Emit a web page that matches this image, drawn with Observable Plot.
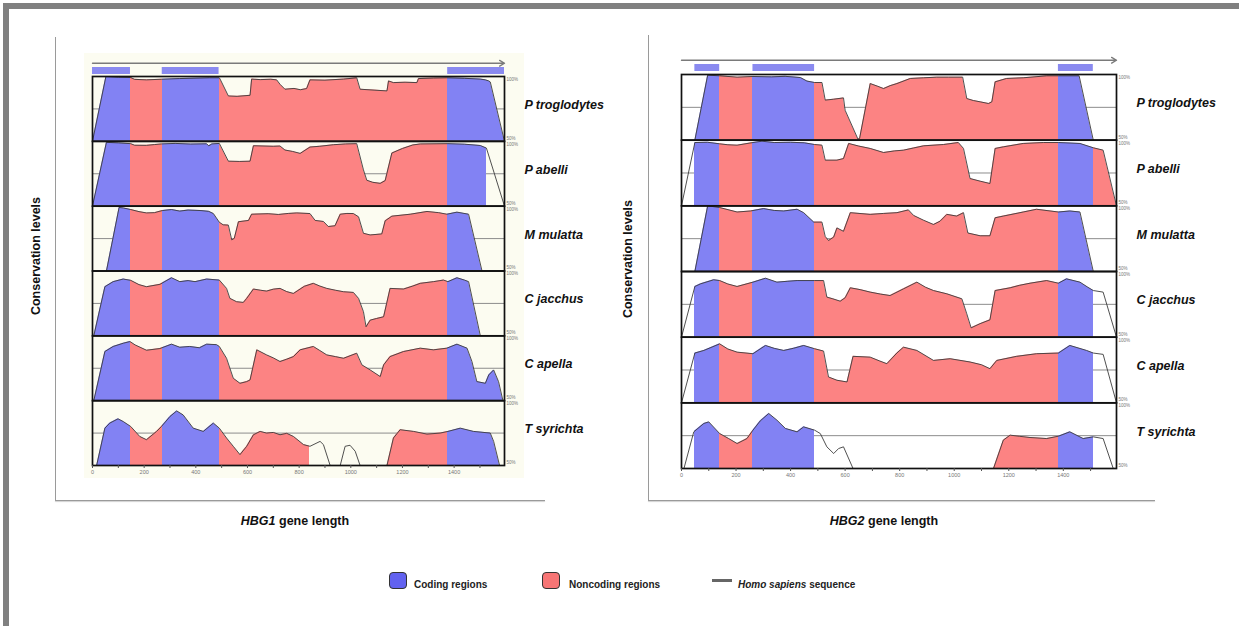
<!DOCTYPE html>
<html><head><meta charset="utf-8">
<script src="https://cdn.jsdelivr.net/npm/d3@7"></script>
<script src="https://cdn.jsdelivr.net/npm/@observablehq/plot@0.6"></script>
<style>
body{margin:0;background:#fff;font-family:"Liberation Sans",Arial,sans-serif;}
#root{position:relative;width:1239px;height:626px;overflow:hidden;background:#fff;}
.abs{position:absolute;}
.lbl{font-weight:bold;font-size:12.5px;color:#111;white-space:nowrap;}
.leg{font-weight:bold;font-size:10px;color:#222;white-space:nowrap;}
</style></head><body><div id="root"></div>
<script>
// ---------------- data ----------------
const species = ["P troglodytes","P abelli","M mulatta","C jacchus","C apella","T syrichta"];
const xTicks = [0,100,200,300,400,500,600,700,800,900,1000,1100,1200,1300,1400,1500];
const geneLength = [1595, 1595];

const hbg1Coding = [[0,147],[270,490],[1375,1595]];
const hbg2Coding = [[49,140],[262,488],[1382,1510]];

// HBG1 conservation profiles [position bp, % identity]
const h1_ptro = [[0,50],[52,100],[100,99.4],[148,99.2],[163,97.8],[209,97.4],[267,97.9],[336,98.4],[452,99],[491,99],[494,98],[526,85],[560,84.7],[610,85.5],[616,98],[650,97.6],[690,97.9],[713,97.4],[726,94],[745,90.2],[780,90.8],[805,89.8],[829,90.7],[842,97.4],[900,97.2],[972,98],[1023,99],[1036,90.2],[1090,89.5],[1140,88.9],[1146,96.6],[1165,95.3],[1210,95.6],[1256,95.3],[1262,98.4],[1320,98.8],[1372,99],[1440,98.6],[1501,98],[1521,97.4],[1534,96.6],[1540,95.8],[1595,50]];
const h1_pabe = [[0,50],[54,99.2],[100,98.8],[148,98.2],[163,97],[209,96.9],[240,97.5],[267,98],[320,98.4],[380,97.9],[442,98.1],[450,96.5],[462,98],[491,98.4],[526,84.7],[570,84.5],[610,84.7],[623,96.6],[700,96.2],[726,96.4],[745,93.3],[775,92.2],[804,90.7],[842,95.6],[880,96.2],[933,97.4],[980,98],[1023,98.2],[1049,78],[1062,70],[1085,68.4],[1114,67.6],[1133,69.7],[1159,91],[1200,94.5],[1240,97.2],[1269,98],[1376,98.2],[1440,97.8],[1501,96.8],[1525,94.8],[1595,50]];
const h1_mmul = [[54,50],[103,99],[120,98.6],[148,97.4],[180,95.8],[209,94.8],[240,95],[270,96.6],[306,97.4],[338,96.2],[370,97],[420,96.6],[450,96],[468,94.3],[491,87.6],[506,85.6],[526,85.4],[539,74],[549,75.2],[565,88],[604,89],[616,93.8],[680,94.2],[720,93.6],[758,94.4],[791,94.8],[842,94.3],[862,89],[894,88.2],[913,84.3],[939,84.9],[959,93.8],[985,94.4],[1010,94.3],[1030,91.8],[1049,79.1],[1075,77.8],[1120,78.6],[1133,88.7],[1159,92.3],[1230,93.8],[1295,95.9],[1340,95],[1372,93.8],[1411,95.4],[1456,93.8],[1508,50]];
const h1_cjac = [[5,50],[48,87.9],[80,91.8],[119,93.8],[148,92.8],[180,89.5],[209,87.9],[261,89.7],[306,94.8],[338,91.8],[370,92.6],[397,91.8],[442,93.8],[491,93],[519,86.6],[532,78.9],[558,76.3],[584,75.8],[597,78.9],[623,86.1],[650,85.2],[674,84.5],[700,86],[726,86.6],[752,84.1],[778,82.7],[820,88.2],[855,90.5],[880,88.4],[907,86.6],[940,85.2],[972,84],[1010,83.5],[1030,78.9],[1049,68.6],[1059,57],[1075,62.1],[1100,63.4],[1127,64.7],[1152,86.6],[1204,86.1],[1240,88.4],[1269,90.5],[1320,91.8],[1359,93],[1376,91.8],[1411,94.8],[1440,93],[1456,91.8],[1501,50.5]];
const h1_cape = [[5,50],[48,87.9],[80,91.8],[119,94.3],[145,95.6],[165,93],[209,88.9],[261,90.2],[306,93.6],[338,91.2],[376,91.8],[414,90.8],[442,93.6],[480,93.2],[491,91.8],[519,82.7],[545,67.3],[571,63.4],[597,64.7],[610,66],[636,89.2],[674,85.3],[700,83],[726,80.2],[752,82],[778,84],[804,89.2],[855,91.8],[880,88.7],[907,85.3],[940,84],[972,82.7],[1023,86.6],[1043,77.6],[1075,73.7],[1114,68.6],[1127,77.6],[1152,84],[1204,87.9],[1269,90.5],[1320,89.2],[1372,90.5],[1411,93.6],[1450,90.5],[1469,80.2],[1488,64.7],[1521,63.4],[1534,69.8],[1553,73.7],[1572,64.7],[1589,50]];
const h1_tsyr = [[16,50],[48,78.8],[67,82.7],[99,86],[119,83.9],[148,80.1],[183,72.4],[209,69.9],[248,76.3],[267,80.1],[300,87.8],[326,92.1],[351,89],[390,78.8],[429,76.3],[468,82.7],[491,78.8],[519,71.2],[545,64.8],[571,58.4],[597,64.8],[623,73.7],[649,76.3],[674,75],[700,75.5],[726,73.7],[752,74.8],[778,72.4],[817,66.1],[842,64.8],[881,68.6],[894,66.1],[920,50],[959,50],[978,64.8],[997,65.6],[1017,61],[1036,50],[1140,50],[1165,71.2],[1191,77.6],[1243,76.3],[1295,74.2],[1346,75],[1376,76.3],[1424,78.8],[1475,76.3],[1540,75],[1553,68.6],[1576,50]];

// HBG2 conservation profiles
const h2_ptro = [[49,50],[96,99.5],[140,99],[204,98],[262,98.5],[330,98.2],[380,98.6],[436,97.7],[460,95],[488,93.9],[515,93.9],[527,80.5],[558,81.2],[594,82.2],[600,72.8],[647,50.8],[653,51.3],[692,93.1],[720,91],[741,89.3],[765,91.5],[790,93.1],[839,97],[888,97.5],[936,98],[979,98],[1031,98],[1046,81.7],[1070,80.2],[1095,79.2],[1126,77.9],[1138,79.2],[1150,94.4],[1192,97],[1253,97.5],[1300,98.3],[1339,99],[1382,99],[1458,99],[1510,50]];
const h2_pabe = [[0,50],[49,98.2],[96,98.4],[140,97.2],[170,96.5],[204,96.2],[262,98.2],[295,99.2],[340,98.2],[400,98.4],[450,98],[488,96.7],[515,96.2],[527,84.8],[570,84.8],[594,86],[613,97.5],[650,95.5],[692,93.7],[741,90.6],[780,91.8],[814,92.4],[850,94],[888,95.7],[961,96.7],[1015,98.2],[1034,93.7],[1058,70.8],[1095,68.8],[1131,67],[1150,93.7],[1180,94.9],[1253,97.5],[1327,98.2],[1382,98.2],[1461,97.5],[1510,94.2],[1546,92.4],[1595,50]];
const h2_mmul = [[49,50],[96,100],[140,98.7],[204,95.3],[253,96.1],[301,97.9],[340,96.5],[375,96.1],[424,97.4],[448,94.8],[485,87.6],[515,87.6],[527,76.7],[539,73.6],[558,76.2],[570,83.2],[594,80.6],[619,94.8],[692,93.5],[740,94.2],[790,94.8],[832,96.9],[851,92.7],[887,89.1],[924,85.8],[948,88.3],[973,93.5],[1009,92.2],[1034,94.8],[1050,79.3],[1095,77.2],[1131,77.2],[1150,90.9],[1180,92.2],[1253,95.3],[1302,97.4],[1382,95.3],[1424,96.1],[1461,95.3],[1510,50]];
const h2_cjac = [[0,50],[49,88.6],[70,90.6],[118,93.7],[140,93.1],[170,90.5],[204,88.6],[262,91.9],[308,94.9],[350,91.9],[390,92.6],[424,93.1],[488,93.1],[521,93.1],[533,80.5],[555,79.2],[582,77.4],[600,80],[619,87.6],[655,86.2],[692,84.3],[730,82.8],[765,81.7],[814,86.8],[863,91.9],[895,88],[924,85.5],[973,83],[1028,79.2],[1046,67.8],[1062,57.1],[1095,60.3],[1131,63.2],[1150,85.5],[1205,87.6],[1240,89.5],[1278,91.1],[1339,93.1],[1382,91.1],[1412,94.4],[1461,91.9],[1490,88],[1510,85.5],[1546,84.3],[1595,50]];
const h2_cape = [[0,50],[49,87.9],[82,89.9],[140,94.9],[170,91],[204,88.6],[262,87.4],[308,93.7],[340,91.5],[375,89.9],[410,91.5],[448,93.7],[488,91.2],[521,89.4],[539,69.7],[570,67.2],[607,65.9],[629,85.4],[692,84.8],[725,82],[753,79.8],[790,88],[814,92.4],[863,89.9],[924,82.3],[985,83.6],[1058,81.1],[1100,79],[1131,76],[1156,82.3],[1229,85.4],[1302,87.4],[1382,87.9],[1424,93.7],[1485,89.9],[1510,87.9],[1546,86.9],[1595,50]];
const h2_tsyr = [[9,50],[45,77.9],[82,84.3],[100,85.5],[140,76.6],[173,72.8],[204,69],[240,72.8],[262,79.2],[289,86.3],[320,91.9],[350,86.8],[381,80.5],[424,77.9],[448,81.7],[488,79.2],[509,76.6],[533,66.5],[558,61.4],[576,65.2],[594,66.5],[629,50],[1144,50],[1180,71.6],[1205,75.4],[1240,74.5],[1278,73.6],[1339,72.8],[1382,74.6],[1424,77.9],[1473,72.8],[1510,74.1],[1546,72.8],[1583,50]];

// shaded (conserved) stretches per profile
const h1_fills = [[[0,1595]],[[0,1525]],[[54,1508]],[[5,1501]],[[5,1589]],[[16,842],[1140,1576]]];
const h2_fills = [[[49,1510]],[[49,1595]],[[49,1510]],[[49,1510]],[[49,1510]],[[49,488],[1144,1510]]];

// ---------------- style ----------------
const BLUE = "#8282f3", RED = "#fc8383", BAR = "#8a8af0";
const FONT = "'Liberation Sans', Arial, sans-serif";
const root = document.getElementById("root");

function div(css, html) {
  const d = document.createElement("div");
  d.className = "abs";
  d.style.cssText = css;
  if (html) d.innerHTML = html;
  root.appendChild(d);
  return d;
}

// outer frame & panel frames
div("left:3px;top:3px;width:1236px;height:6px;background:#808080;");
div("left:3px;top:3px;width:6px;height:623px;background:#808080;");
div("left:84px;top:53px;width:440px;height:425px;background:#fcfcf1;");
div("left:55px;top:37px;width:1px;height:463px;background:#9a9a9a;");
div("left:55px;top:500px;width:490px;height:1px;background:#9a9a9a;box-shadow:0 1px 1px #ccc;");
div("left:648px;top:35px;width:1px;height:465px;background:#9a9a9a;");
div("left:648px;top:500px;width:507px;height:1px;background:#9a9a9a;box-shadow:0 1px 1px #ccc;");

function gradients(svg, prefix, fills, coding, len) {
  const ns = "http://www.w3.org/2000/svg";
  const x = svg.scale("x");
  const x0 = x.apply(0), x1 = x.apply(len);
  const defs = document.createElementNS(ns, "defs");
  fills.forEach((fr, i) => {
    const g = document.createElementNS(ns, "linearGradient");
    g.setAttribute("id", `${prefix}-${i}`);
    g.setAttribute("gradientUnits", "userSpaceOnUse");
    g.setAttribute("x1", x0); g.setAttribute("x2", x1);
    g.setAttribute("y1", 0); g.setAttribute("y2", 0);
    const edges = [...new Set([0, len, ...fr.flat(), ...coding.flat()])]
      .filter(v => v >= 0 && v <= len).sort((a, b) => a - b);
    for (let k = 0; k < edges.length - 1; k++) {
      const a = edges[k], b = edges[k + 1], m = (a + b) / 2;
      const on = fr.some(([s, e]) => m >= s && m <= e);
      const cod = coding.some(([s, e]) => m >= s && m <= e);
      for (const v of [a, b]) {
        const st = document.createElementNS(ns, "stop");
        st.setAttribute("offset", (x.apply(v) - x0) / (x1 - x0));
        st.setAttribute("stop-color", cod ? BLUE : RED);
        st.setAttribute("stop-opacity", on ? 1 : 0);
        g.appendChild(st);
      }
    }
    defs.appendChild(g);
  });
  svg.insertBefore(defs, svg.firstChild);
}

function panel(o) {
  const rows = species.flatMap((sp, i) => o.profiles[i].map(([x, v]) => ({sp, x, v})));
  const plot = Plot.plot({
    width: o.width, height: o.height,
    marginLeft: o.ml, marginRight: o.width - o.pr, marginTop: 5, marginBottom: 16,
    style: {background: "transparent", fontFamily: FONT, overflow: "visible"},
    x: {domain: [0, o.len]},
    y: {domain: [50, 100]},
    fy: {domain: species, padding: 0, round: false, axis: null},
    marks: [
      Plot.frame({fill: o.bg, stroke: null}),
      Plot.ruleY([75], {stroke: "#8c8c8c", strokeWidth: 1}),
      ...species.map((sp, i) => Plot.areaY(rows.filter(d => d.sp === sp), {
        x: "x", y1: () => 50, y2: "v", fy: "sp", fill: `url(#${o.id}-${i})`
      })),
      Plot.lineY(rows, {x: "x", y: "v", fy: "sp", z: "sp", stroke: "#3c3c3c", strokeWidth: 0.9}),
      Plot.frame({stroke: "#111", strokeWidth: 1.7}),
      Plot.axisY({anchor: "right", ticks: [100], tickSize: 0, tickPadding: 2, label: null,
        tickFormat: d => d + "%", fontSize: 4.5, fill: "#777", dy: 3}),
      Plot.axisY({anchor: "right", ticks: [50], tickSize: 0, tickPadding: 2, label: null,
        tickFormat: d => d + "%", fontSize: 4.5, fill: "#777", dy: -3}),
      Plot.axisX({ticks: xTicks.filter(t => t < o.len), tickSize: 3, tickPadding: 2, label: null,
        tickFormat: d => d % 200 === 0 ? String(d) : "", fontSize: 5.5, fill: "#777", stroke: "#555"}),
      Plot.text(species, {fy: d => d, text: d => d, frameAnchor: "right", dx: 20, dy: -4, textAnchor: "start",
        fontWeight: "bold", fontStyle: "italic", fontSize: 12.5, fill: "#111"})
    ]
  });
  gradients(plot, o.id, o.fills, o.coding, o.len);
  plot.style.position = "absolute";
  plot.style.left = o.left + "px";
  plot.style.top = o.top + "px";
  root.appendChild(plot);

  const track = Plot.plot({
    width: o.width, height: 17,
    marginLeft: o.ml, marginRight: o.width - o.pr, marginTop: 0, marginBottom: 0,
    style: {background: "transparent", overflow: "visible"},
    x: {domain: [0, o.len], axis: null},
    y: {domain: [0, 1], axis: null},
    marks: [
      Plot.rect(o.coding, {x1: d => d[0], x2: d => d[1], y1: () => 0.06, y2: () => 0.47, fill: BAR}),
      Plot.arrow([[0, o.len]], {x1: d => d[0], x2: d => d[1], y1: () => 0.72, y2: () => 0.72,
        stroke: "#7a7a7a", strokeWidth: 1.4, headLength: 6})
    ]
  });
  track.style.position = "absolute";
  track.style.left = o.left + "px";
  track.style.top = o.trackTop + "px";
  root.appendChild(track);
}

panel({id: "g1", left: 0, top: 71, trackTop: 58, width: 640, height: 410, ml: 92, pr: 504,
  len: geneLength[0], coding: hbg1Coding, fills: h1_fills, bg: "#fcfcf1",
  profiles: [h1_ptro, h1_pabe, h1_mmul, h1_cjac, h1_cape, h1_tsyr]});
panel({id: "g2", left: 560, top: 69, trackTop: 55, width: 679, height: 415, ml: 121, pr: 556,
  len: geneLength[1], coding: hbg2Coding, fills: h2_fills, bg: "#ffffff",
  profiles: [h2_ptro, h2_pabe, h2_mmul, h2_cjac, h2_cape, h2_tsyr]});

// axis titles
div("left:-65px;top:247px;width:200px;text-align:center;transform:rotate(-90deg);", "<span class='lbl'>Conservation levels</span>");
div("left:527px;top:250px;width:200px;text-align:center;transform:rotate(-90deg);", "<span class='lbl'>Conservation levels</span>");
div("left:145px;top:511px;width:300px;text-align:center;", "<span class='lbl'><i>HBG1</i> gene length</span>");
div("left:734px;top:511px;width:300px;text-align:center;", "<span class='lbl'><i>HBG2</i> gene length</span>");

// legend
div("left:389px;top:572px;width:16px;height:15px;background:#6262f0;border:1.5px solid #333;border-radius:4px;");
div("left:414px;top:574px;", "<span class='leg'>Coding regions</span>");
div("left:542px;top:572px;width:16px;height:15px;background:#f77575;border:1.5px solid #333;border-radius:4px;");
div("left:569px;top:574px;", "<span class='leg'>Noncoding regions</span>");
div("left:712px;top:579px;width:20px;height:3px;background:#666;");
div("left:738px;top:574px;", "<span class='leg'><i>Homo sapiens</i> sequence</span>");
</script></body></html>
